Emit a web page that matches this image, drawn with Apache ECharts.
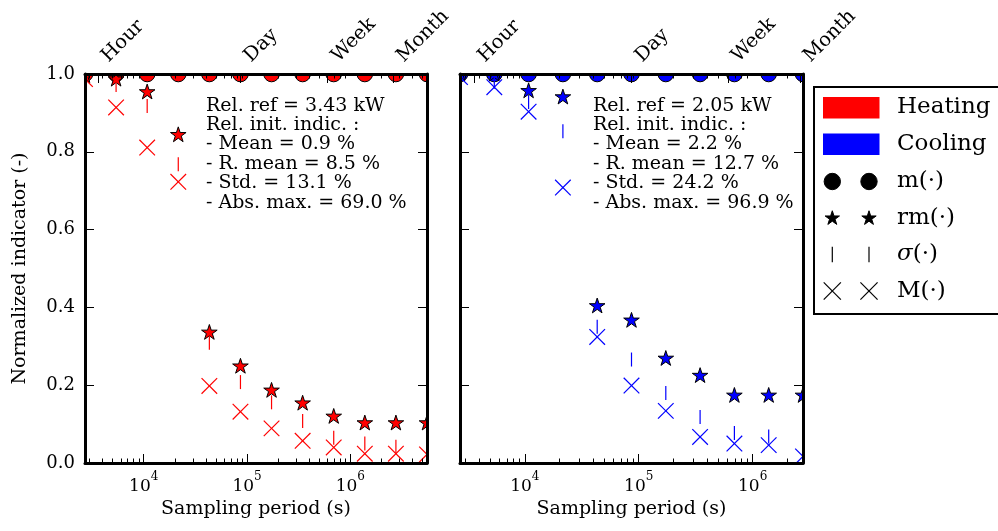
<!DOCTYPE html>
<html><head><meta charset="utf-8">
<script src="https://cdn.jsdelivr.net/npm/echarts@6/dist/echarts.min.js"></script>
<style>html,body{margin:0;padding:0;background:#fff}#c{width:998px;height:531px}</style>
</head><body><div id="c"></div>
<script>
// ---------- data ----------
const heatPeriods = [2700, 5400, 10800, 21600, 43200, 86400, 172800, 345600, 691200, 1382400, 2764800, 5529600];
const heatMean  = [1, 1, 1, 1, 1, 1, 1, 1, 1, 1, 1, 1];
const heatRMean = [0.995, 0.986, 0.953, 0.843, 0.335, 0.248, 0.186, 0.153, 0.119, 0.102, 0.102, 0.102];
const heatStd   = [0.990, 0.972, 0.918, 0.768, 0.309, 0.208, 0.156, 0.108, 0.065, 0.050, 0.042, 0.040];
const heatMax   = [0.987, 0.914, 0.811, 0.723, 0.198, 0.132, 0.089, 0.057, 0.040, 0.024, 0.024, 0.022];

const coolPeriods = [2700, 5400, 10800, 21600, 43200, 86400, 172800, 345600, 691200, 1382400, 2764800];
const coolMean  = [1, 1, 1, 1, 1, 1, 1, 1, 1, 1, 1];
const coolRMean = [1.000, 0.999, 0.956, 0.940, 0.403, 0.366, 0.268, 0.224, 0.173, 0.173, 0.173];
const coolStd   = [0.996, 0.980, 0.928, 0.853, 0.350, 0.266, 0.180, 0.118, 0.077, 0.068, 0.050];
const coolMax   = [0.992, 0.966, 0.903, 0.708, 0.324, 0.199, 0.134, 0.067, 0.050, 0.046, 0.017];

const bottomTickValues = [1e4, 1e5, 1e6];
const topTickValues = [3600, 86400, 604800, 2592000];
const topTickLabels = ['Hour', 'Day', 'Week', 'Month'];

const heatNote = ['Rel. ref = 3.43 kW', 'Rel. init. indic. :', '- Mean = 0.9 %', '- R. mean = 8.5 %', '- Std. = 13.1 %', '- Abs. max. = 69.0 %'];
const coolNote = ['Rel. ref = 2.05 kW', 'Rel. init. indic. :', '- Mean = 2.2 %', '- R. mean = 12.7 %', '- Std. = 24.2 %', '- Abs. max. = 96.9 %'];

const legendNames = ['Heating', 'Cooling', 'm(·)', 'rm(·)', '{i|σ}(·)', 'M(·)'];

// ---------- styling ----------
const FONT = 'DejaVu Serif';
const RED = '#ff0000', BLUE = '#0000ff';
const SPINE = 3;
const GRIDS = [
  {left: 85, top: 74, width: 342, height: 389},
  {left: 460, top: 74, width: 343, height: 389}
];

function minorTicks(lo, hi) {
  const out = [];
  for (let n = 2; n <= 7; n++) for (let k = 2; k <= 9; k++) {
    const v = Math.log10(k * Math.pow(10, n));
    if (v > lo && v < hi) out.push(v);
  }
  return out;
}

function marker(kind, x, y, color, scale) {
  const s = scale || 1;
  if (kind === 'circle') {
    return {type: 'circle', shape: {cx: x, cy: y, r: 7.8 * s}, style: {fill: color, stroke: '#000', lineWidth: 1}};
  }
  if (kind === 'star') {
    const R = 8.2 * s, r = R * 0.382, pts = [];
    for (let i = 0; i < 10; i++) {
      const a = -Math.PI / 2 + i * Math.PI / 5, rr = i % 2 ? r : R;
      pts.push([x + rr * Math.cos(a), y + rr * Math.sin(a)]);
    }
    return {type: 'polygon', shape: {points: pts}, style: {fill: color, stroke: '#000', lineWidth: 1}};
  }
  if (kind === 'vline') {
    const h = 7 * s;
    return {type: 'line', shape: {x1: x, y1: y - h, x2: x, y2: y + h}, style: {stroke: color, lineWidth: 1.2}};
  }
  const d = 7.8 * s;
  return {type: 'group', children: [
    {type: 'line', shape: {x1: x - d, y1: y - d, x2: x + d, y2: y + d}, style: {stroke: color, lineWidth: 1.2}},
    {type: 'line', shape: {x1: x - d, y1: y + d, x2: x + d, y2: y - d}, style: {stroke: color, lineWidth: 1.2}}
  ]};
}

function markerSeries(g, xs, ys, kind, color) {
  return {
    type: 'custom', xAxisIndex: g * 4, yAxisIndex: g * 2, clip: true, silent: true, z: 2,
    data: xs.map((p, i) => [Math.log10(p), ys[i]]),
    renderItem: (params, api) => {
      const c = api.coord([api.value(0), api.value(1)]);
      const cs = params.coordSys;
      return {type: 'group',
        clipPath: {type: 'rect', shape: {x: cs.x, y: cs.y, width: cs.width, height: cs.height}},
        children: [marker(kind, c[0], c[1], color)]};
    }
  };
}

const tickLine = {color: '#000', width: 1};
function xAxesFor(g, lo, hi) {
  const common = {type: 'value', gridIndex: g, min: lo, max: hi, splitLine: {show: false}, z: 10, silent: true};
  const topVals = topTickValues.map(Math.log10);
  return [
    Object.assign({}, common, {
      position: 'bottom',
      axisLine: {show: true, onZero: false, lineStyle: {color: '#000', width: SPINE}},
      axisTick: {show: true, inside: true, length: 9, customValues: bottomTickValues.map(Math.log10), lineStyle: tickLine},
      axisLabel: {show: true, customValues: bottomTickValues.map(Math.log10), margin: 8,
        formatter: v => '{b|10}{s|' + Math.round(v) + '}',
        rich: {
          b: {fontFamily: FONT, fontSize: 17, color: '#000', lineHeight: 24, verticalAlign: 'bottom'},
          s: {fontFamily: FONT, fontSize: 12, color: '#000', lineHeight: 24, verticalAlign: 'top'}
        }},
      name: 'Sampling period (s)', nameLocation: 'middle', nameGap: 35,
      nameTextStyle: {fontFamily: FONT, fontSize: 19, color: '#000'}
    }),
    Object.assign({}, common, {
      position: 'bottom', axisLine: {show: false, onZero: false},
      axisTick: {show: true, inside: true, length: 4.5, customValues: minorTicks(lo, hi), lineStyle: tickLine},
      axisLabel: {show: false}
    }),
    Object.assign({}, common, {
      position: 'top',
      axisLine: {show: true, onZero: false, lineStyle: {color: '#000', width: SPINE}},
      axisTick: {show: true, inside: true, length: 9, customValues: topVals, lineStyle: tickLine},
      axisLabel: {show: true, customValues: topVals, rotate: -45, align: 'left', verticalAlign: 'top', margin: 22,
        fontFamily: FONT, fontSize: 19.5, color: '#000',
        formatter: v => {
          let best = 0;
          topVals.forEach((t, i) => { if (Math.abs(t - v) < Math.abs(topVals[best] - v)) best = i; });
          return topTickLabels[best];
        }}
    }),
    Object.assign({}, common, {
      position: 'top', axisLine: {show: false, onZero: false},
      axisTick: {show: true, inside: true, length: 4.5, customValues: minorTicks(lo, hi), lineStyle: tickLine},
      axisLabel: {show: false}
    })
  ];
}

function yAxesFor(g, labels) {
  const common = {type: 'value', gridIndex: g, min: 0, max: 1, interval: 0.2, splitLine: {show: false}, z: 10, silent: true,
    axisLine: {show: true, onZero: false, lineStyle: {color: '#000', width: SPINE}},
    axisTick: {show: true, inside: true, length: 9, lineStyle: tickLine}};
  const left = Object.assign({}, common, {position: 'left',
    axisLabel: {show: labels, margin: 10, fontFamily: FONT, fontSize: 18, color: '#000', formatter: v => v.toFixed(1)}});
  if (labels) {
    Object.assign(left, {name: 'Normalized indicator (-)', nameLocation: 'middle', nameGap: 55,
      nameTextStyle: {fontFamily: FONT, fontSize: 19, color: '#000'}});
  }
  const right = Object.assign({}, common, {position: 'right', axisLabel: {show: false}});
  return [left, right];
}

const heatLo = Math.log10(heatPeriods[0]), heatHi = Math.log10(heatPeriods[heatPeriods.length - 1]);
const coolLo = Math.log10(coolPeriods[0]), coolHi = Math.log10(coolPeriods[coolPeriods.length - 1]);

// white masks outside the plotting areas (markers are clipped at the frame as in the original)
const W = 998, H = 531, g0 = GRIDS[0], g1 = GRIDS[1];
const maskRects = [
  [0, 0, W, g0.top - 0.5],
  [0, 0, g0.left - 0.5, H],
  [g0.left + g0.width + 0.5, 0, g1.left - g0.left - g0.width - 1, H],
  [g1.left + g1.width + 0.5, 0, W, H],
  [0, g0.top + g0.height + 0.5, W, H]
].map(r => ({type: 'rect', silent: true, shape: {x: r[0], y: r[1], width: r[2], height: r[3]}, style: {fill: '#fff'}}));

// legend graphic
const LX1 = 832.3, LX2 = 869, LTX = 897, LROW = [107.5, 144, 181.5, 218.3, 254.5, 291];
const legendEls = [
  {type: 'rect', shape: {x: 814, y: 87, width: 200, height: 227}, style: {fill: '#fff', stroke: '#000', lineWidth: 2}},
  {type: 'rect', shape: {x: 823, y: 97, width: 56.5, height: 21.5}, style: {fill: RED}},
  {type: 'rect', shape: {x: 823, y: 133.5, width: 56.5, height: 21.5}, style: {fill: BLUE}}
];
['circle', 'star', 'vline', 'x'].forEach((k, i) => {
  const y = LROW[i + 2];
  const sc = k === 'star' ? 0.92 : (k === 'vline' ? 1.1 : (k === 'circle' ? 1.05 : 1.1));
  legendEls.push(marker(k, LX1, y, '#000', sc), marker(k, LX2, y, '#000', sc));
});
legendNames.forEach((t, i) => {
  legendEls.push({type: 'text', x: LTX, y: LROW[i], style: {text: t, fontFamily: FONT, fontSize: 23, fill: '#000',
    verticalAlign: 'middle', align: 'left',
    rich: {i: {fontFamily: FONT, fontSize: 23, fontStyle: 'italic', fill: '#000'}}}});
});

const noteStyle = {fontFamily: FONT, fontSize: 19, lineHeight: 19.4, fill: '#000', align: 'left', verticalAlign: 'top'};

const option = {
  animation: false,
  backgroundColor: '#fff',
  grid: GRIDS,
  xAxis: xAxesFor(0, heatLo, heatHi).concat(xAxesFor(1, coolLo, coolHi)),
  yAxis: yAxesFor(0, true).concat(yAxesFor(1, false)),
  series: [
    markerSeries(0, heatPeriods, heatMean, 'circle', RED),
    markerSeries(0, heatPeriods, heatRMean, 'star', RED),
    markerSeries(0, heatPeriods, heatStd, 'vline', RED),
    markerSeries(0, heatPeriods, heatMax, 'x', RED),
    markerSeries(1, coolPeriods, coolMean, 'circle', BLUE),
    markerSeries(1, coolPeriods, coolRMean, 'star', BLUE),
    markerSeries(1, coolPeriods, coolStd, 'vline', BLUE),
    markerSeries(1, coolPeriods, coolMax, 'x', BLUE)
  ],
  graphic: [
    {type: 'group', z: 5, silent: true, children: maskRects},
    {type: 'text', x: 206, y: 96, z: 20, style: Object.assign({text: heatNote.join('\n')}, noteStyle)},
    {type: 'text', x: 593, y: 96, z: 20, style: Object.assign({text: coolNote.join('\n')}, noteStyle)},
    {type: 'group', z: 20, children: legendEls}
  ]
};

const chart = echarts.init(document.getElementById('c'), null, {renderer: 'canvas'});
chart.setOption(option);
</script>
</body></html>
